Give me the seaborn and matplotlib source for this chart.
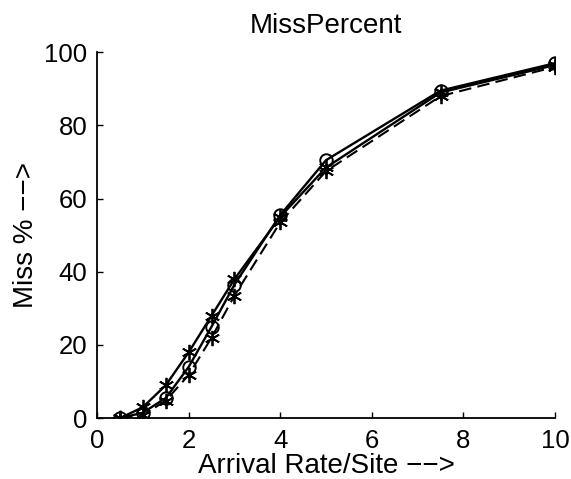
import matplotlib
matplotlib.use("Agg")
import matplotlib.pyplot as plt
import seaborn as sns
import pandas as pd

arrival_rate = [0.5, 1, 1.5, 2, 2.5, 3, 4, 5, 7.5, 10]
miss_circle = [0.0, 1.5, 5.5, 14.0, 25.0, 36.5, 55.5, 70.5, 89.5, 97.0]
miss_star_solid = [0.0, 3.0, 9.0, 18.0, 28.0, 38.0, 55.0, 68.5, 89.0, 96.5]
miss_star_dashed = [0.0, 0.8, 4.8, 11.8, 22.0, 33.5, 53.5, 67.5, 88.0, 96.0]

x_ticks = [0, 2, 4, 6, 8, 10]
y_ticks = [0, 20, 40, 60, 80, 100]

sns.set_theme(style="white")
plt.rcParams['font.family'] = ['Liberation Sans', 'DejaVu Sans']

fig = plt.figure(figsize=(5.71, 4.79), dpi=100)
ax = fig.add_axes([0.17, 0.127, 0.802, 0.764])

df_c = pd.DataFrame({"x": arrival_rate, "y": miss_circle})
df_s = pd.DataFrame({"x": arrival_rate, "y": miss_star_solid})
df_d = pd.DataFrame({"x": arrival_rate, "y": miss_star_dashed})

sns.lineplot(data=df_c, x="x", y="y", ax=ax, color="black", lw=1.7,
             marker="o", markersize=9, markerfacecolor="none",
             markeredgecolor="black", markeredgewidth=1.4)
sns.lineplot(data=df_s, x="x", y="y", ax=ax, color="black", lw=1.7,
             marker=(6, 2, 0), markersize=11, markeredgecolor="black",
             markeredgewidth=1.3)
sns.lineplot(data=df_d, x="x", y="y", ax=ax, color="black", lw=1.5,
             linestyle=(0, (6, 3)), marker=(6, 2, 0), markersize=11,
             markeredgecolor="black", markeredgewidth=1.3)

ax.set_xlim(0, 10)
ax.set_ylim(0, 100)
ax.set_xticks(x_ticks)
ax.set_yticks(y_ticks)
ax.set_xticklabels([str(t) for t in x_ticks])
ax.set_yticklabels([str(t) for t in y_ticks])
ax.tick_params(direction="in", length=4, width=1, labelsize=18.5,
               colors="black", left=True, bottom=True)
ax.tick_params(axis="x", pad=8)
ax.tick_params(axis="y", pad=7)
for s in ["top", "right"]:
    ax.spines[s].set_visible(False)
for s in ["left", "bottom"]:
    ax.spines[s].set_color("black")
    ax.spines[s].set_linewidth(1.3)

ax.set_title("MissPercent", fontsize=20, color="black", pad=14)
ax.set_xlabel("Arrival Rate/Site \u2212\u2212>", fontsize=20, color="black", labelpad=0)
ax.set_ylabel("Miss % \u2212\u2212>", fontsize=20, color="black", labelpad=4)

fig.savefig("out.png", dpi=100)
